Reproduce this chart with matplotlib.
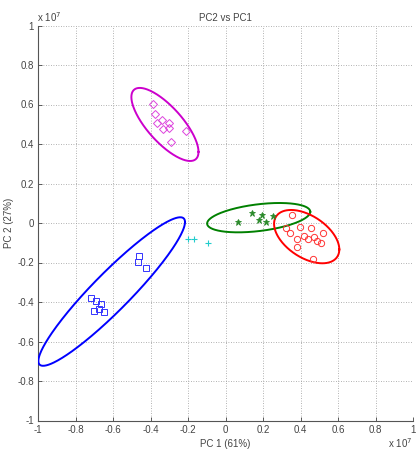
import numpy as np
import matplotlib.pyplot as plt

plt.rcParams['font.family'] = ['Liberation Sans', 'DejaVu Sans']

# PCA scores (units of 1e7)
mag_x = [-0.385, -0.378, -0.367, -0.340, -0.300, -0.300, -0.335, -0.212, -0.292]
mag_y = [0.603, 0.550, 0.505, 0.522, 0.508, 0.479, 0.474, 0.467, 0.412]

blue_x = [-0.719, -0.689, -0.664, -0.676, -0.703, -0.650, -0.461, -0.465, -0.422]
blue_y = [-0.380, -0.395, -0.410, -0.434, -0.447, -0.451, -0.167, -0.196, -0.230]

green_x = [0.068, 0.141, 0.193, 0.180, 0.216, 0.255]
green_y = [0.004, 0.049, 0.042, 0.015, 0.007, 0.035]

red_x = [0.356, 0.321, 0.397, 0.456, 0.518, 0.344, 0.420, 0.442, 0.472,
         0.486, 0.508, 0.383, 0.383, 0.465]
red_y = [0.041, -0.024, -0.019, -0.027, -0.052, -0.052, -0.064, -0.083, -0.069,
         -0.090, -0.100, -0.083, -0.123, -0.184]

cyan_x = [-0.198, -0.168, -0.095]
cyan_y = [-0.081, -0.081, -0.103]

# group ellipses: centre, half-width, half-height, correlation
ell_names = ['magenta', 'blue', 'green', 'red']
ell_cx = [-0.323, -0.607, 0.177, 0.433]
ell_cy = [0.499, -0.347, 0.027, -0.069]
ell_w = [0.179, 0.391, 0.275, 0.174]
ell_h = [0.185, 0.376, 0.0743, 0.135]
ell_rho = [-0.75, 0.935, 0.40, -0.48]

fig = plt.figure(figsize=(4.16, 4.51), dpi=100)
ax = fig.add_axes([38 / 416, 30.5 / 451, 375 / 416, 395 / 451])

ell_colors = {'magenta': '#cc00cc', 'blue': '#0000ff', 'green': '#008000', 'red': '#ff0000'}

t = np.linspace(0, 2 * np.pi, 300)
for name, cx, cy, w, h, r in zip(ell_names, ell_cx, ell_cy, ell_w, ell_h, ell_rho):
    ex = cx + w * np.cos(t)
    ey = cy + h * (r * np.cos(t) + np.sqrt(1 - r ** 2) * np.sin(t))
    ax.plot(ex, ey, color=ell_colors[name], lw=1.4, zorder=3)

ax.plot(mag_x, mag_y, linestyle='none', marker='D', mfc='none', color='#dd44dd',
        ms=4, mew=0.7, zorder=4)
ax.plot(blue_x, blue_y, linestyle='none', marker='s', mfc='none', color='#3333ff',
        ms=4.5, mew=0.7, zorder=4)
ax.plot(green_x, green_y, linestyle='none', marker='*', color='#2a8a2a',
        ms=5, mew=0.6, zorder=4)
ax.plot(red_x, red_y, linestyle='none', marker='o', mfc='none', color='#ff3333',
        ms=4.5, mew=0.7, zorder=4)
ax.plot(cyan_x, cyan_y, linestyle='none', marker='+', color='#22cccc',
        ms=5, mew=0.8, zorder=4)

ax.set_xlim(-1, 1)
ax.set_ylim(-1, 1)
ticks = np.round(np.arange(-1, 1.01, 0.2), 1) + 0.0
ax.set_xticks(ticks)
ax.set_yticks(ticks)
ax.set_xticklabels(['%g' % v if abs(v) > 1e-9 else '0' for v in ticks])
ax.set_yticklabels(['%g' % v if abs(v) > 1e-9 else '0' for v in ticks])
ax.tick_params(direction='in', length=3, width=0.6, labelsize=7, colors='#444444',
               pad=3)
ax.grid(True, linestyle=(0, (1, 2)), color='#999999', lw=0.6)
ax.set_axisbelow(True)
for s in ['top', 'right']:
    ax.spines[s].set_visible(False)
for s in ['left', 'bottom']:
    ax.spines[s].set_color('#555555')
    ax.spines[s].set_linewidth(0.8)

ax.set_xlabel('PC 1 (61%)', fontsize=7, color='#444444', labelpad=3)
ax.set_ylabel('PC 2 (27%)', fontsize=7, color='#444444')
ax.yaxis.set_label_coords(-0.064, 0.5)
ax.set_title('PC2 vs PC1', fontsize=7, color='#444444', pad=3)

fig.text(37 / 416, 1 - 17 / 451, r'x 10$^7$', fontsize=7, color='#444444',
         ha='left', va='center')
fig.text(412 / 416, 1 - 443 / 451, r'x 10$^7$', fontsize=7, color='#444444',
         ha='right', va='center')

fig.savefig('out.png', dpi=100)
